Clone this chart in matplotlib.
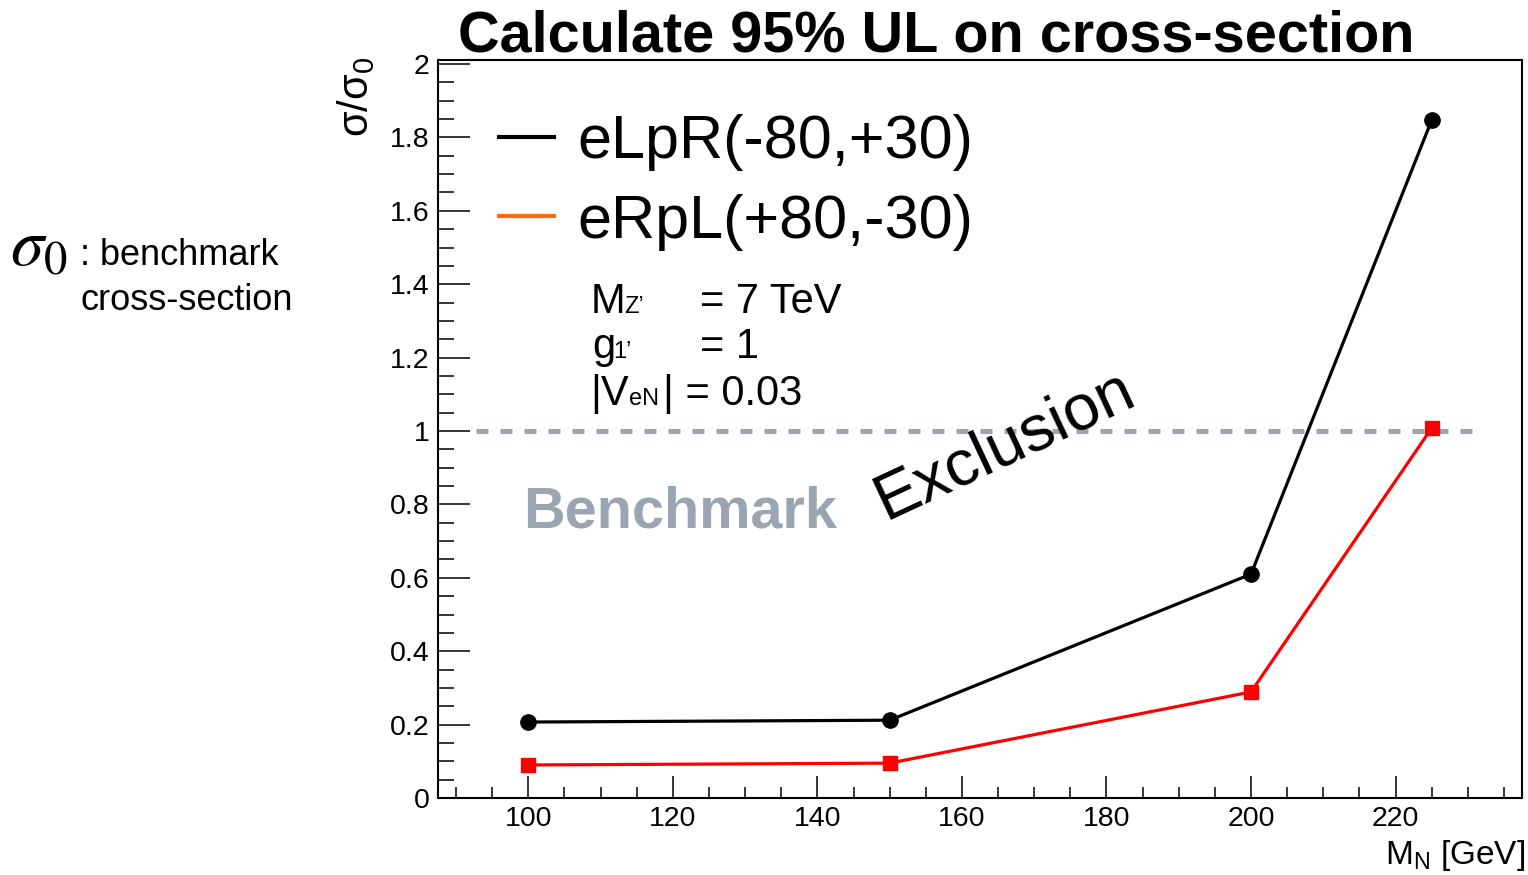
import matplotlib.pyplot as plt
from matplotlib.lines import Line2D

# data
mass_n = [100, 150, 200, 225]
ul_elpr = [0.207, 0.212, 0.610, 1.847]
ul_erpl = [0.090, 0.095, 0.289, 1.008]

legend_labels = ['eLpR(-80,+30)', 'eRpL(+80,-30)']
x_ticks = [100, 120, 140, 160, 180, 200, 220]
y_ticks = [0, 0.2, 0.4, 0.6, 0.8, 1, 1.2, 1.4, 1.6, 1.8, 2]
y_ticklabels = ['0', '0.2', '0.4', '0.6', '0.8', '1', '1.2', '1.4', '1.6', '1.8', '2']

plt.rcParams['font.family'] = ['Liberation Sans', 'DejaVu Sans']
plt.rcParams['mathtext.fontset'] = 'custom'
plt.rcParams['mathtext.rm'] = 'Liberation Sans'
plt.rcParams['mathtext.it'] = 'Liberation Sans:italic'

W, H = 1528, 875
fig = plt.figure(figsize=(W / 100, H / 100), dpi=100)


def px(x, y):
    # pixel position -> figure fraction
    return x / W, 1 - y / H


ax = fig.add_axes([438 / W, 1 - 798 / H, (1522 - 438) / W, (798 - 60) / H])

# benchmark line
ax.hlines(1, 92.7, 231.7, colors='#9aa5b1', lw=3.6, linestyles=(0, (2.4, 2.4)))

ax.plot(mass_n, ul_elpr, color='black', lw=2.3, marker='o', ms=11, zorder=3)
ax.plot(mass_n, ul_erpl, color='red', lw=2.3, marker='s', ms=10, zorder=3)

ax.set_xlim(87.5, 237.5)
ax.set_ylim(0, 2.011)
ax.set_xticks(x_ticks)
ax.set_xticklabels([str(t) for t in x_ticks])
ax.set_xticks(range(90, 240, 5), minor=True)
ax.set_yticks(y_ticks)
ax.set_yticklabels(y_ticklabels)
ax.set_yticks([i * 0.05 for i in range(41)], minor=True)

ax.tick_params(axis='both', which='both', direction='in', width=1.1, labelsize=20.5, pad=6)
ax.tick_params(axis='y', which='major', length=23)
ax.tick_params(axis='y', which='minor', length=11.5)
ax.tick_params(axis='x', which='major', length=16)
ax.tick_params(axis='x', which='minor', length=8)
for s in ax.spines.values():
    s.set_linewidth(1.5)

# legend (line only, like the ROOT legend)
handles = [Line2D([], [], color='black', lw=3), Line2D([], [], color='#ff6a13', lw=3)]
ax.legend(handles, legend_labels, loc='upper left', bbox_to_anchor=px(499, 114),
          bbox_transform=fig.transFigure, frameon=False, fontsize=44,
          handlelength=0.9, handletextpad=0.38, labelspacing=0.37,
          borderpad=0, borderaxespad=0)

fig.text(*px(936, 52), 'Calculate 95% UL on cross-section', ha='center', va='baseline',
         fontsize=41.5, fontweight='bold')

fig.text(*px(356, 57), r'$\mathregular{\sigma/\sigma_0}$', rotation=90, ha='center', va='top',
         fontsize=30)
fig.text(*px(1525, 864), r'M$_\mathregular{N}$ [GeV]', ha='right', va='baseline', fontsize=24)

# parameter block
fig.text(*px(591, 313), 'M', fontsize=30, va='baseline')
fig.text(*px(624, 313), 'Z’', fontsize=17, va='baseline')
fig.text(*px(700, 313), '= 7 TeV', fontsize=30, va='baseline')
fig.text(*px(592, 358), 'g', fontsize=30, va='baseline')
fig.text(*px(613, 358), '1’', fontsize=17, va='baseline')
fig.text(*px(700, 358), '= 1', fontsize=30, va='baseline')
fig.text(*px(590, 405), '|V', fontsize=30, va='baseline')
fig.text(*px(629, 405), 'eN', fontsize=17, va='baseline')
fig.text(*px(663, 405), '| = 0.03', fontsize=30, va='baseline')

fig.text(*px(523, 527), 'Benchmark', color='#9aa5b1', fontsize=41.5, fontweight='bold',
         va='baseline')
fig.text(*px(1005, 445), 'Exclusion', rotation=25, fontsize=47, ha='center', va='center')

# side note
fig.text(*px(10, 265), r'$\sigma_0$', fontsize=48, math_fontfamily='stix', va='baseline')
fig.text(*px(80, 265), ': benchmark', fontsize=26, va='baseline')
fig.text(*px(80, 310), 'cross-section', fontsize=26, va='baseline')

fig.savefig('out.png', dpi=100)
